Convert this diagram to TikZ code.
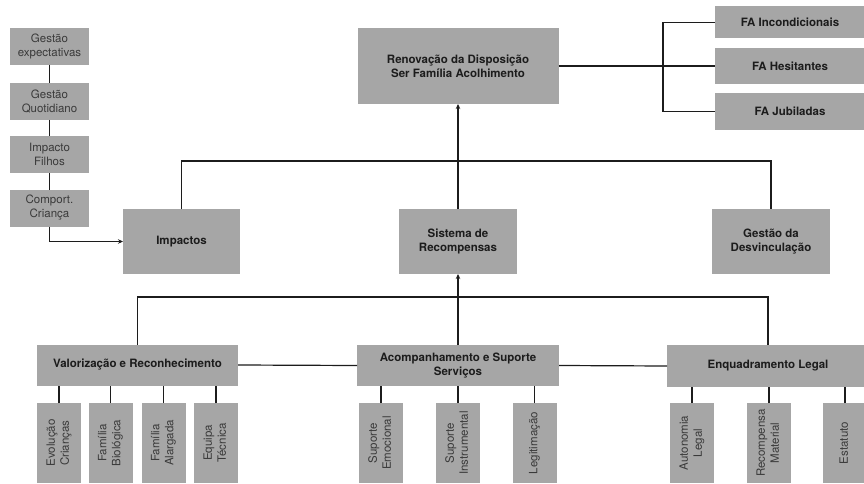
\documentclass[tikz,border=0pt]{standalone}
\usepackage{fontspec}
\setmainfont{TeX Gyre Heros}
\usepackage{graphicx}
\usetikzlibrary{arrows.meta}
\definecolor{boxG}{HTML}{A6A6A6}
\definecolor{inkD}{HTML}{1C1C1C}
\definecolor{inkL}{HTML}{3A3A3A}
\newcommand{\bx}{\fontsize{11.5}{14}\selectfont\bfseries}
\newcommand{\rg}{\fontsize{11.5}{14}\selectfont}
\newcommand{\vlab}[1]{\rotatebox{90}{\begin{tabular}{@{}c@{}}#1\end{tabular}}}

\begin{document}
\begin{tikzpicture}[x=1pt,y=-1pt,
  every node/.style={inner sep=0pt,outer sep=0pt},
  mainbox/.style={fill=boxG,align=center,text=inkD,font=\bx},
  sidebox/.style={fill=boxG,align=center,text=inkL,font=\rg,minimum width=79pt,minimum height=37pt},
  subbox/.style={fill=boxG,text=inkL,font=\rg,minimum width=44pt,minimum height=80pt},
  link/.style={draw=inkD,line width=1.2pt},
  tip/.style={-{Stealth[length=5pt,width=4.5pt]}}]
\path[use as bounding box] (0,0) rectangle (864,484);
% ---------- left column
\node[sidebox] (expect) at (49.5,46.5) {Gestão\\expectativas};
\node[sidebox] (quotid) at (49.5,101.5) {Gestão\\Quotidiano};
\node[sidebox] (filhos) at (49.5,154.5) {Impacto\\Filhos};
\node[sidebox] (crianca) at (49.5,208) {Comport.\\Criança};
% ---------- top
\node[mainbox,minimum width=201pt,minimum height=76pt] (renov) at (458,66) {Renovação da Disposição\\Ser Família Acolhimento};
\node[mainbox,minimum width=150pt,minimum height=32pt] (incond) at (790,22.5) {FA Incondicionais};
\node[mainbox,minimum width=150pt,minimum height=36pt] (hesit) at (790,66) {FA Hesitantes};
\node[mainbox,minimum width=150pt,minimum height=37pt] (jubil) at (790,111.5) {FA Jubiladas};
% ---------- middle row
\node[mainbox,minimum width=117pt,minimum height=65pt] (impact) at (181.5,241.5) {Impactos};
\node[mainbox,minimum width=118pt,minimum height=65pt] (recomp) at (458,241.5) {Sistema de\\Recompensas};
\node[mainbox,minimum width=118pt,minimum height=65pt] (desvinc) at (771,241.5) {Gestão da\\Desvinculação};
% ---------- bottom row
\node[mainbox,minimum width=201pt,minimum height=41pt] (valor) at (137.5,365) {Valorização e Reconhecimento};
\node[mainbox,minimum width=202pt,minimum height=41pt] (acomp) at (458,365.5) {Acompanhamento e Suporte\\Serviços};
\node[mainbox,minimum width=202pt,minimum height=42pt] (enquad) at (768,366) {Enquadramento Legal};
% ---------- vertical leaves
\node[subbox] (evol) at (59,443) {\vlab{Evolução\\Crianças}};
\node[subbox] (fbio) at (110.5,443) {\vlab{Família\\Biológica}};
\node[subbox] (falar) at (163.5,443) {\vlab{Família\\Alargada}};
\node[subbox] (equipa) at (216,443) {\vlab{Equipa\\Técnica}};
\node[subbox] (semoc) at (381,443) {\vlab{Suporte\\Emocional}};
\node[subbox] (sinst) at (458,443) {\vlab{Suporte\\Instrumental}};
\node[subbox] (legit) at (534.5,443) {\vlab{Legitimação}};
\node[subbox] (auton) at (692,443) {\vlab{Autonomia\\Legal}};
\node[subbox] (rmat) at (769,443) {\vlab{Recompensa\\Material}};
\node[subbox] (estat) at (845,443) {\vlab{Estatuto}};
% ---------- connectors
\coordinate (upbar) at (458,161);
\coordinate (lowbar) at (458,297);
\draw[link] (expect) -- (quotid) (quotid) -- (filhos) (filhos) -- (crianca);
\draw[link,tip] (crianca.south) |- (impact.west);
\draw[link,tip] (recomp.north) -- (renov.south);
\draw[link] (impact.north) |- (upbar) -| (desvinc.north);
\draw[link] (renov.east) -- (hesit.west);
\draw[link] (incond.west) -- ++(-52,0) |- (jubil.west);
\draw[link] (valor.north) |- (lowbar) -| (enquad.north);
\draw[link,tip] (acomp.north) -- (recomp.south);
\draw[link] (valor.east) -- (acomp.west) (acomp.east) -- (enquad.west);
\foreach \leaf/\top in {evol/valor,fbio/valor,falar/valor,equipa/valor,semoc/acomp,sinst/acomp,legit/acomp,auton/enquad,rmat/enquad,estat/enquad}
  \draw[link] (\leaf.north) -- (\leaf.north |- \top.south);
\end{tikzpicture}
\end{document}
